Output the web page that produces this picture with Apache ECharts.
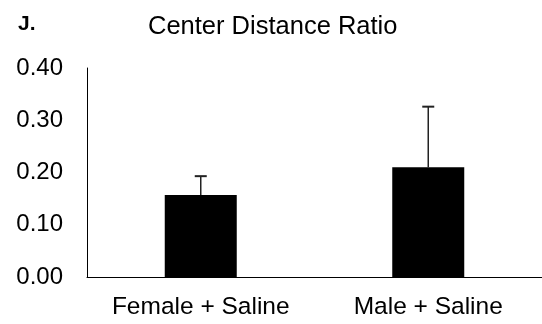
<!DOCTYPE html>
<html><head><meta charset="utf-8">
<script src="https://cdn.jsdelivr.net/npm/echarts@6/dist/echarts.min.js"></script>
<style>html,body{margin:0;padding:0;background:#fff}#c{width:542px;height:324px}</style>
</head><body><div id="c"></div>
<script>
const categories = ["Female + Saline", "Male + Saline"];
const means = [0.157, 0.210];
const errors = [0.036, 0.116];
const yTicks = [0, 0.1, 0.2, 0.3, 0.4];

const chart = echarts.init(document.getElementById('c'), null, {renderer: 'canvas'});
const font = "'Liberation Sans', Arial, sans-serif";
chart.setOption({
  animation: false,
  title: [
    {text: 'Center Distance Ratio', left: 148, top: 14, padding: 0, textStyle: {fontFamily: font, fontSize: 25.5, fontWeight: 'normal', color: '#000'}},
    {text: 'J.', left: 18, top: 14, padding: 0, textStyle: {fontFamily: font, fontSize: 21, fontWeight: 'bold', color: '#000'}}
  ],
  grid: {left: 87, top: 68, width: 460, height: 209},
  xAxis: {
    type: 'category', data: categories,
    axisLine: {lineStyle: {color: '#000', width: 1}},
    axisTick: {show: false},
    axisLabel: {fontFamily: font, fontSize: 24.5, color: '#000', margin: 18, interval: 0, hideOverlap: false}
  },
  yAxis: {
    type: 'value', min: yTicks[0], max: yTicks[yTicks.length-1], interval: 0.1,
    axisLine: {show: true, lineStyle: {color: '#000', width: 1}},
    axisTick: {show: false},
    splitLine: {show: false},
    axisLabel: {fontFamily: font, fontSize: 24, color: '#000', margin: 24, formatter: v => v.toFixed(2)}
  },
  series: [
    {type: 'bar', data: means, barWidth: 72, itemStyle: {color: '#000'}},
    {
      type: 'custom', z: 1,
      data: means.map((m, i) => [i, m, m + errors[i]]),
      renderItem: (params, api) => {
        const base = api.coord([api.value(0), api.value(1)]);
        const top = api.coord([api.value(0), api.value(2)]);
        const hw = 6;
        return {type: 'group', children: [
          {type: 'line', shape: {x1: base[0], y1: base[1], x2: top[0], y2: top[1]}, style: {stroke: '#222', lineWidth: 1.5}},
          {type: 'line', shape: {x1: top[0]-hw, y1: top[1], x2: top[0]+hw, y2: top[1]}, style: {stroke: '#222', lineWidth: 2}}
        ]};
      }
    }
  ]
});
</script></body></html>
